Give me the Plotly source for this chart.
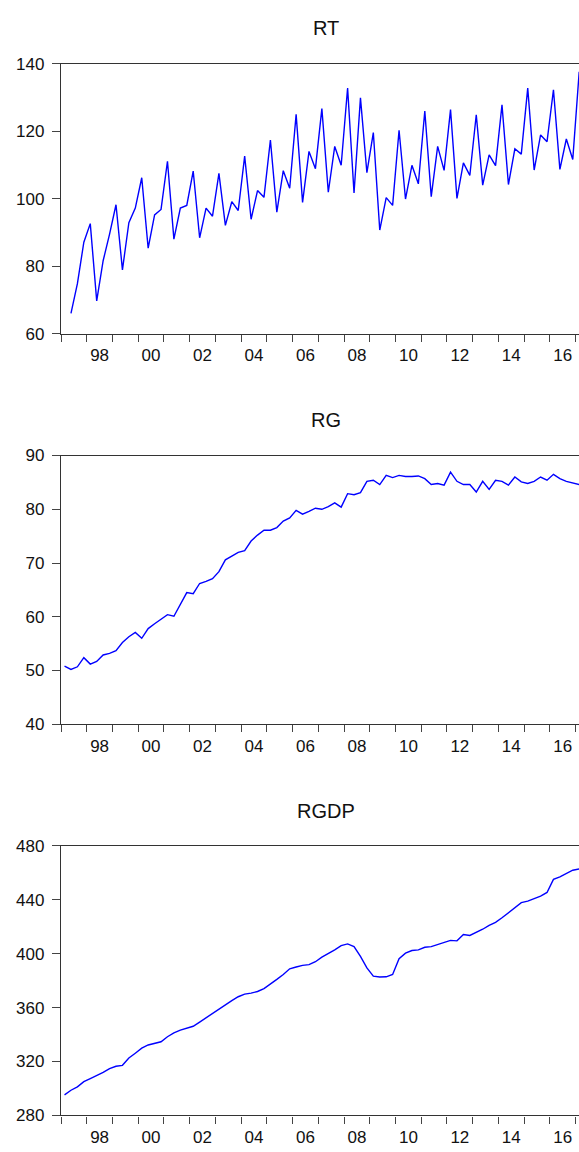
import plotly.graph_objects as go

# ---- data (quarterly, 1997Q1 .. 2017Q1) ----
quarters = [f"{1997 + k // 4}Q{k % 4 + 1}" for k in range(81)]

rt = [None,
      66.0, 74.8, 87.1, 92.6, 69.7, 81.6, 89.5, 98.2, 78.9, 92.9,
      97.2, 106.2, 85.3, 95.2, 96.8, 111.1, 88.0, 97.2, 98.0, 108.2,
      88.4, 97.2, 94.8, 107.5, 92.1, 99.1, 96.5, 112.6, 93.9, 102.4,
      100.4, 117.4, 96.0, 108.3, 103.1, 125.0, 98.9, 114.0, 108.9, 126.7,
      101.9, 115.5, 109.9, 132.8, 101.7, 129.9, 107.7, 119.6, 90.7, 100.3,
      98.0, 120.3, 99.9, 109.9, 104.4, 126.0, 100.6, 115.5, 108.4, 126.4,
      100.1, 110.6, 106.9, 124.9, 104.0, 113.0, 109.8, 127.8, 104.2, 114.8,
      113.2, 132.8, 108.5, 118.9, 116.9, 132.3, 108.7, 117.7, 111.6, 137.6]

rg = [50.8, 50.2, 50.7, 52.4, 51.2, 51.7, 52.9, 53.2, 53.7, 55.2,
      56.3, 57.1, 56.0, 57.8, 58.7, 59.6, 60.4, 60.1, 62.3, 64.5,
      64.3, 66.2, 66.6, 67.1, 68.4, 70.6, 71.3, 72.0, 72.3, 74.1,
      75.2, 76.1, 76.1, 76.6, 77.8, 78.4, 79.8, 79.1, 79.6, 80.2,
      80.0, 80.5, 81.2, 80.4, 82.9, 82.7, 83.1, 85.2, 85.4, 84.6,
      86.3, 85.9, 86.3, 86.1, 86.1, 86.2, 85.7, 84.6, 84.8, 84.5,
      86.9, 85.2, 84.6, 84.6, 83.2, 85.2, 83.7, 85.4, 85.2, 84.5,
      86.0, 85.1, 84.8, 85.2, 86.0, 85.4, 86.5, 85.7, 85.2, 84.9, 84.6]

rgdp = [295.3, 298.7, 301.2, 305.1, 307.3, 309.4, 311.9, 314.8, 316.5, 317.2,
        322.6, 326.2, 329.9, 332.3, 333.5, 334.7, 338.4, 341.3, 343.3, 344.5,
        346.2, 349.3, 352.5, 356.2, 359.1, 362.2, 365.2, 368.1, 370.0, 370.8,
        372.0, 374.2, 377.3, 381.0, 384.6, 388.8, 390.2, 391.4, 391.9, 394.1,
        397.5, 400.0, 402.9, 406.0, 407.3, 405.3, 398.0, 389.5, 383.4, 382.7,
        382.9, 384.6, 396.3, 400.4, 402.4, 402.9, 404.8, 405.3, 407.0, 408.2,
        409.9, 409.6, 414.3, 413.6, 415.8, 418.2, 421.1, 423.3, 426.7, 430.6,
        434.3, 437.9, 439.1, 440.8, 442.8, 445.5, 455.2, 457.1, 459.3, 462.0, 463.0]

titles = ["RT", "RG", "RGDP"]
y_ticks = [[60, 80, 100, 120, 140],
           [40, 50, 60, 70, 80, 90],
           [280, 320, 360, 400, 440, 480]]
year_ticks = list(range(1997, 2018))
label_years = list(range(1998, 2017, 2))
label_text = [f"{y % 100:02d}" for y in label_years]

# decimal-year position of each quarter (middle of the quarter)
xpos = [int(q[:4]) + (int(q[-1]) - 0.45) / 4 for q in quarters]

W, H = 579, 1152
LEFT = 61
panels = [(55.7, 330.0), (454.0, 727.3), (851.0, 1125.0)]  # top/bottom px
title_y = [19.5, 417.7, 815.0]

FONT = "Liberation Sans, Arial, sans-serif"
fig = go.Figure()
series = [rt, rg, rgdp]
for i, s in enumerate(series):
    xa = "x" if i == 0 else f"x{i+1}"
    ya = "y" if i == 0 else f"y{i+1}"
    fig.add_trace(go.Scatter(x=xpos, y=s, mode="lines", xaxis=xa, yaxis=ya,
                             line=dict(color="#0000FF", width=1.4),
                             connectgaps=False, showlegend=False, hoverinfo="skip"))

layout = dict(width=W, height=H, margin=dict(l=0, r=0, t=0, b=0),
              paper_bgcolor="white", plot_bgcolor="white",
              font=dict(family=FONT, color="#111", size=17))

for i in range(3):
    top, bot = panels[i]
    xk = "xaxis" if i == 0 else f"xaxis{i+1}"
    yk = "yaxis" if i == 0 else f"yaxis{i+1}"
    ya = "y" if i == 0 else f"y{i+1}"
    xa = "x" if i == 0 else f"x{i+1}"
    layout[xk] = dict(domain=[LEFT / W, 1.0], anchor=ya,
                      range=[1997.0, 2017.13],
                      showgrid=False, zeroline=False,
                      showline=True, linecolor="#333", linewidth=1.3, mirror=True,
                      tickmode="array", tickvals=[y + 0.5 for y in label_years],
                      ticktext=label_text, ticks="", ticklabelstandoff=6,
                      tickfont=dict(size=17, family=FONT, color="#111"),
                      minor=dict(tickmode="array", tickvals=year_ticks,
                                 ticks="outside", ticklen=7, tickwidth=1.3,
                                 tickcolor="#444", showgrid=False))
    lo, hi = y_ticks[i][0], y_ticks[i][-1]
    layout[yk] = dict(domain=[1 - bot / H, 1 - top / H], anchor=xa,
                      range=[lo, hi], tickmode="array", tickvals=y_ticks[i],
                      showgrid=False, zeroline=False,
                      showline=True, linecolor="#333", linewidth=1.3,
                      ticks="outside", ticklen=8, tickwidth=1.3, tickcolor="#444",
                      ticklabelstandoff=4,
                      tickfont=dict(size=17, family=FONT, color="#111"))

annotations = []
for i, t in enumerate(titles):
    annotations.append(dict(text=t, xref="paper", yref="paper",
                            x=326 / W, y=1 - title_y[i] / H,
                            xanchor="center", yanchor="middle", showarrow=False,
                            font=dict(size=20, family=FONT, color="#111")))
layout["annotations"] = annotations

fig.update_layout(**layout)
fig.write_html("out.html")
